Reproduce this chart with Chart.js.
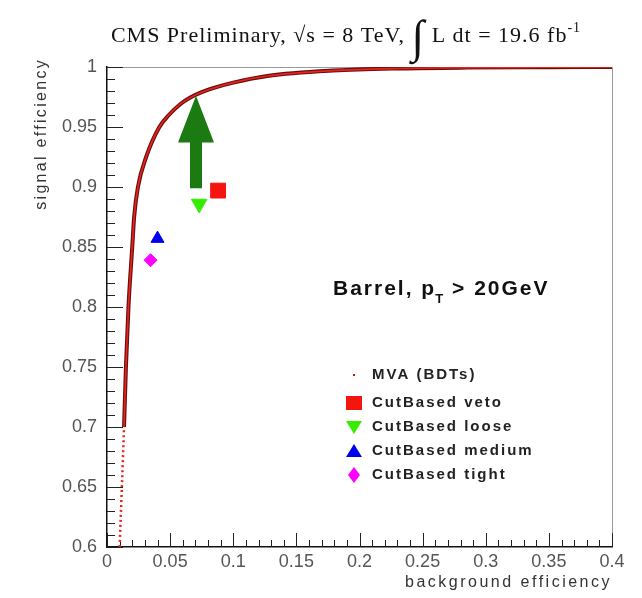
<!DOCTYPE html>
<html>
<head>
<meta charset="utf-8">
<script src="https://cdn.jsdelivr.net/npm/chart.js@4.4.1/dist/chart.umd.min.js"></script>
<style>
  html, body { margin: 0; padding: 0; background: #fff; }
  #wrap { width: 642px; height: 598px; }
</style>
</head>
<body>
<div id="wrap"><canvas id="chart" width="642" height="598"></canvas></div>
<script>
// MVA (BDT) ROC curve
var mvaX = [0.010, 0.0135, 0.015, 0.017, 0.020, 0.0215, 0.0245, 0.031, 0.0415, 0.049, 0.058, 0.066, 0.075, 0.086, 0.100, 0.127, 0.179, 0.232, 0.285, 0.350, 0.400]
var mvaY = [0.600, 0.700, 0.750, 0.800, 0.850, 0.875, 0.900, 0.925, 0.950, 0.960, 0.969, 0.9745, 0.979, 0.983, 0.987, 0.9925, 0.9970, 0.9988, 0.9995, 0.9998, 1.000]

// cut based working points
var wpNames = ["CutBased veto", "CutBased loose", "CutBased medium", "CutBased tight"]
var wpX = [0.088, 0.073, 0.040, 0.0345]
var wpY = [0.897, 0.886, 0.857, 0.839]

// green arrow: shaft bottom, tip, head base
var arrowX = 0.0705
var arrowFrom = 0.899
var arrowTo = 0.976
var arrowHead = 0.937

var xTicks = [0, 0.05, 0.1, 0.15, 0.2, 0.25, 0.3, 0.35, 0.4]
var yTicks = [0.6, 0.65, 0.7, 0.75, 0.8, 0.85, 0.9, 0.95, 1]

var sans = "'Liberation Sans', Arial, sans-serif"
var serif = "'Liberation Serif', 'Times New Roman', serif"

var mvaData = []
for (var i = 0; i < mvaX.length; i++) mvaData.push({x: mvaX[i], y: mvaY[i]})

function fmt(v){ return String(Number(v.toFixed(2))) }

var decor = {
  id: 'decor',
  beforeDatasetsDraw: function(chart){
    var c = chart.ctx, a = chart.chartArea
    var xs = chart.scales.x, ys = chart.scales.y
    c.save()
    // top and right frame
    c.strokeStyle = '#999'
    c.lineWidth = 1
    c.beginPath()
    c.moveTo(a.left, a.top + 0.5); c.lineTo(a.right + 0.5, a.top + 0.5); c.lineTo(a.right + 0.5, a.bottom)
    c.stroke()
    // inner ticks
    c.strokeStyle = '#222'
    c.beginPath()
    for (var k = 0; k <= 40; k++) {
      var px = Math.round(xs.getPixelForValue(k / 100)) + 0.5
      var len = (k % 5 == 0) ? 14 : 7
      c.moveTo(px, a.bottom); c.lineTo(px, a.bottom - len)
    }
    for (var k = 60; k <= 100; k++) {
      var py = Math.round(ys.getPixelForValue(k / 100)) + 0.5
      var len = (k % 5 == 0) ? 16 : 8
      c.moveTo(a.left, py); c.lineTo(a.left + len, py)
    }
    c.stroke()
    c.restore()
  },
  afterDatasetsDraw: function(chart){
    var c = chart.ctx, a = chart.chartArea
    var xs = chart.scales.x, ys = chart.scales.y
    c.save()
    // arrow
    var cx = xs.getPixelForValue(arrowX)
    var yb = ys.getPixelForValue(arrowFrom)
    var yt = ys.getPixelForValue(arrowTo)
    var yh = ys.getPixelForValue(arrowHead)
    c.fillStyle = '#1c7a12'
    c.beginPath()
    c.moveTo(cx - 6, yb); c.lineTo(cx + 6, yb); c.lineTo(cx + 6, yh)
    c.lineTo(cx + 18, yh); c.lineTo(cx, yt); c.lineTo(cx - 18, yh); c.lineTo(cx - 6, yh)
    c.closePath()
    c.fill()

    // title
    c.fillStyle = '#111'
    c.textBaseline = 'alphabetic'
    c.textAlign = 'left'
    c.letterSpacing = '1px'
    var p1 = 'CMS Preliminary, \u221As = 8 TeV, '
    var p2 = ' L dt = 19.6 fb'
    var sup = '-1'
    c.font = '22px ' + serif
    var w1 = c.measureText(p1).width
    c.font = '46px ' + serif
    var wi = c.measureText('\u222B').width
    c.font = '22px ' + serif
    var w2 = c.measureText(p2).width
    c.font = '14px ' + serif
    var w3 = c.measureText(sup).width
    var x0 = 346 - (w1 + wi + w2 + w3) / 2
    var base = 42
    c.font = '22px ' + serif
    c.fillText(p1, x0, base)
    c.font = '46px ' + serif
    c.fillText('\u222B', x0 + w1, base + 10)
    c.font = '22px ' + serif
    c.fillText(p2, x0 + w1 + wi, base)
    c.font = '14px ' + serif
    c.fillText(sup, x0 + w1 + wi + w2, base - 10)

    // axis titles
    c.fillStyle = '#333'
    c.font = '16px ' + sans
    c.letterSpacing = '2.5px'
    c.textAlign = 'right'
    c.fillText('background efficiency', a.right, 587)
    c.save()
    c.translate(46, 58)
    c.rotate(-Math.PI / 2)
    c.letterSpacing = '2.3px'
    c.fillText('signal efficiency', 0, 0)
    c.restore()

    // region label
    c.fillStyle = '#111'
    c.textAlign = 'left'
    c.letterSpacing = '2px'
    var bx = 333, by = 295
    var t1 = 'Barrel, p'
    c.font = 'bold 21px ' + sans
    c.fillText(t1, bx, by)
    var wb = c.measureText(t1).width
    c.letterSpacing = '0px'
    c.font = 'bold 13px ' + sans
    c.fillText('T', bx + wb - 1, by + 8)
    c.letterSpacing = '2px'
    c.font = 'bold 21px ' + sans
    c.fillText(' > 20GeV', bx + wb + 8, by)

    // legend
    var lx = 354, tx = 372
    var ly = [375, 403, 427, 451, 475]
    c.font = 'bold 15px ' + sans
    c.letterSpacing = '2px'
    c.fillStyle = '#222'
    c.textBaseline = 'middle'
    c.fillText('MVA (BDTs)', tx, ly[0])
    for (var j = 0; j < wpNames.length; j++) c.fillText(wpNames[j], tx, ly[j + 1])
    c.letterSpacing = '0px'
    c.fillStyle = '#d01010'
    c.fillRect(lx - 1, ly[0] - 1, 2, 2)
    c.fillStyle = '#f5150f'
    c.fillRect(lx - 8, ly[1] - 7, 16, 14)
    c.fillStyle = '#33ee00'
    c.beginPath(); c.moveTo(lx - 8, ly[2] - 6); c.lineTo(lx + 8, ly[2] - 6); c.lineTo(lx, ly[2] + 7); c.fill()
    c.fillStyle = '#0000ee'
    c.beginPath(); c.moveTo(lx - 8, ly[3] + 6); c.lineTo(lx + 8, ly[3] + 6); c.lineTo(lx, ly[3] - 7); c.fill()
    c.fillStyle = '#ff00ff'
    c.beginPath(); c.moveTo(lx, ly[4] - 8); c.lineTo(lx + 6, ly[4]); c.lineTo(lx, ly[4] + 8); c.lineTo(lx - 6, ly[4]); c.fill()
    c.restore()
  }
}

function belowDots(s){ return s.p1.parsed.y <= 0.7 }

var ctx = document.getElementById("chart")
var chart = new Chart(ctx, {
  type: 'scatter',
  data: {
    datasets: [{
      label: 'outline',
      order: 2,
      data: mvaData,
      showLine: true,
      cubicInterpolationMode: 'monotone',
      borderColor: '#6a0e0e',
      borderWidth: 4,
      pointRadius: 0,
      segment: {
        borderColor: function(s){ return belowDots(s) ? 'rgba(0,0,0,0)' : undefined }
      }
    }, {
      label: 'MVA (BDTs)',
      order: 1,
      data: mvaData,
      showLine: true,
      cubicInterpolationMode: 'monotone',
      borderColor: '#e8241c',
      borderWidth: 1.6,
      pointRadius: 0,
      segment: {
        borderDash: function(s){ return belowDots(s) ? [2, 3] : undefined },
        borderWidth: function(s){ return belowDots(s) ? 2.5 : undefined }
      }
    }, {
      label: wpNames[0],
      order: 0,
      data: [{x: wpX[0], y: wpY[0]}],
      pointStyle: 'rect', pointRadius: 10.5,
      backgroundColor: '#f5150f', borderColor: '#f5150f'
    }, {
      label: wpNames[1],
      order: 0,
      data: [{x: wpX[1], y: wpY[1]}],
      pointStyle: 'triangle', rotation: 180, pointRadius: 9,
      backgroundColor: '#33ee00', borderColor: '#33ee00'
    }, {
      label: wpNames[2],
      order: 0,
      data: [{x: wpX[2], y: wpY[2]}],
      pointStyle: 'triangle', pointRadius: 7.5,
      backgroundColor: '#0000ee', borderColor: '#0000ee'
    }, {
      label: wpNames[3],
      order: 0,
      data: [{x: wpX[3], y: wpY[3]}],
      pointStyle: 'rectRot', pointRadius: 6.5,
      backgroundColor: '#ff00ff', borderColor: '#ff00ff'
    }]
  },
  options: {
    responsive: false,
    animation: false,
    layout: { padding: { top: 67, right: 30, left: 0, bottom: 0 } },
    plugins: { legend: { display: false }, tooltip: { enabled: false } },
    scales: {
      x: {
        type: 'linear', min: 0, max: 0.4,
        afterBuildTicks: function(s){ s.ticks = xTicks.map(function(v){ return {value: v} }) },
        afterFit: function(s){ s.height = 51 },
        grid: { display: false, drawTicks: false },
        border: { display: true, color: '#111', width: 1.5 },
        ticks: { padding: 4, color: '#555', font: { family: sans, size: 18 }, maxRotation: 0,
          callback: function(v){ return fmt(v) } }
      },
      y: {
        type: 'linear', min: 0.6, max: 1,
        afterBuildTicks: function(s){ s.ticks = yTicks.map(function(v){ return {value: v} }) },
        afterFit: function(s){ s.width = 107 },
        grid: { display: false, drawTicks: false },
        border: { display: true, color: '#111', width: 1.5 },
        ticks: { padding: 10, color: '#555', font: { family: sans, size: 18 },
          callback: function(v){ return fmt(v) } }
      }
    }
  },
  plugins: [decor]
})
</script>
</body>
</html>
